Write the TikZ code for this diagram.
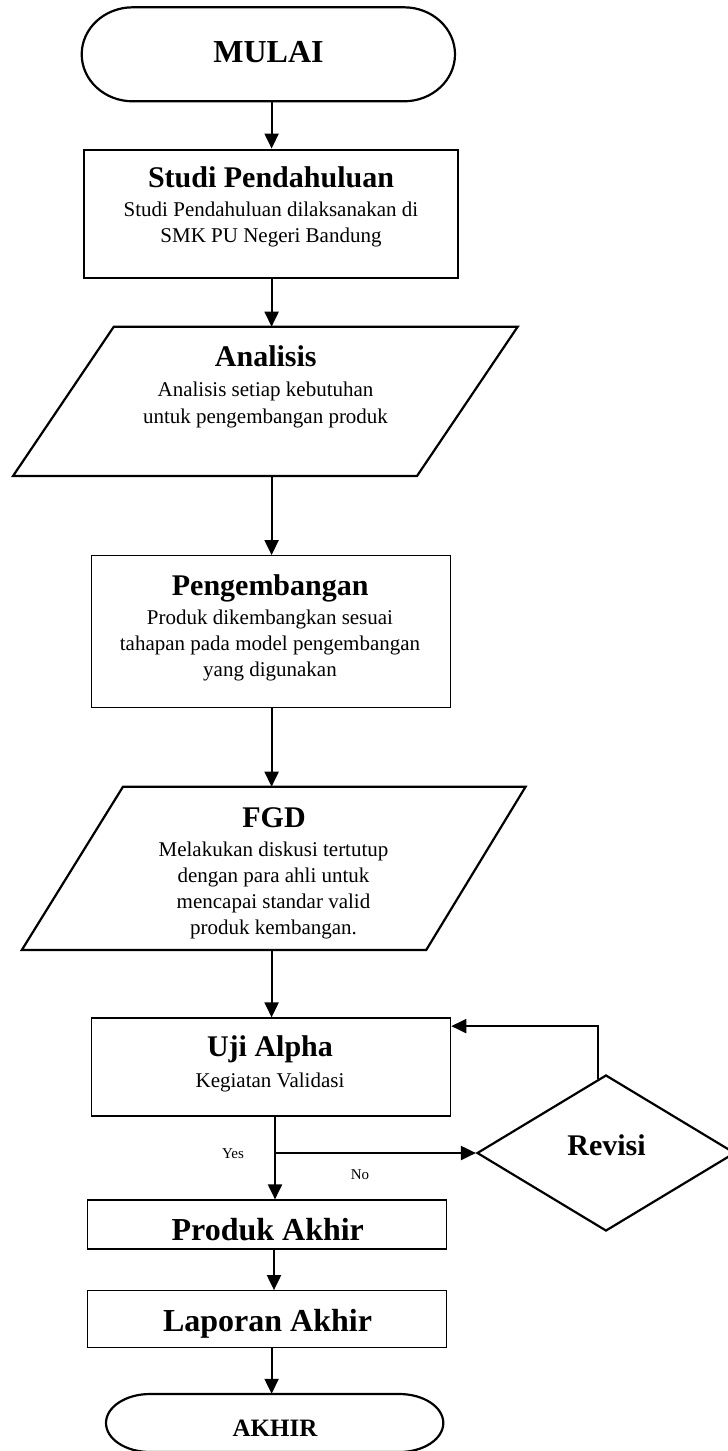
\documentclass[tikz,border=0pt]{standalone}
\usepackage{fontspec}
\setmainfont{Liberation Serif}
\usetikzlibrary{arrows.meta,shapes.geometric,calc}
\newcommand\FTitle{\fontsize{30}{36}\selectfont\bfseries}
\newcommand\FBody{\fontsize{21}{26}\selectfont}
\newcommand\FBig{\fontsize{32}{38}\selectfont\bfseries}
\newcommand\FSmall{\fontsize{15}{18}\selectfont}
\newcommand\FEnd{\fontsize{25}{30}\selectfont\bfseries}
\begin{document}
\begin{tikzpicture}[x=1pt,y=1pt,
  thickline/.style={line width=2.2pt},
  thinbox/.style={draw, line width=1.2pt, rectangle, inner sep=0pt},
  thickbox/.style={draw, line width=2.2pt, rectangle, inner sep=0pt},
  ghost/.style={inner sep=0pt},
  txt/.style={anchor=base, inner sep=0pt, align=center},
  arr/.style={line width=2pt, -{Triangle[length=15pt,width=14pt]}}]
\useasboundingbox (0,0) rectangle (728,-1451);
\coordinate (axis) at (271.6,0);
\coordinate (ax2) at (274,0);

% MULAI
\draw[thickline] (132.7,-7.3) -- (404,-7.3) arc[start angle=90,end angle=-90,x radius=51,y radius=47] -- (132.7,-101.3) arc[start angle=270,end angle=90,x radius=51,y radius=47] -- cycle;
\node[ghost, minimum width=373pt, minimum height=94pt] (mulai) at (268.3,-54.3) {};
\node[txt, font=\FBig] (mulaiT) at (268.5,-62.5) {MULAI};

% Studi Pendahuluan
\node[thickbox, minimum width=374pt, minimum height=128pt] (studi) at (271,-213.7) {};
\node[txt, font=\FTitle] (studiT) at (271,-187.7) {Studi Pendahuluan};
\node[txt, font=\FBody] (studiB) at (271,-242.3) {Studi Pendahuluan dilaksanakan di\\SMK PU Negeri Bandung};

% Analisis
\draw[thickline] (113.8,-326.7) -- (517.7,-326.7) -- (417,-476) -- (13,-476) -- cycle;
\coordinate (anTop) at (271.6,-326.7);
\coordinate (anBot) at (271.6,-476);
\node[txt, font=\FTitle] (anT) at (265.8,-366.7) {Analisis};
\node[txt, font=\FBody] (anB) at (265.5,-423.3) {Analisis setiap kebutuhan\\[1pt]untuk pengembangan produk};

% Pengembangan
\node[thinbox, minimum width=359pt, minimum height=151.6pt] (peng) at (271.2,-631.5) {};
\node[txt, font=\FTitle] (pengT) at (270.2,-595) {Pengembangan};
\node[txt, font=\FBody] (pengB) at (270,-676.3) {Produk dikembangkan sesuai\\tahapan pada model pengembangan\\yang digunakan};

% FGD
\draw[thickline] (123,-786.7) -- (525.6,-786.7) -- (426.2,-950) -- (21.8,-950) -- cycle;
\coordinate (fgdTop) at (271.6,-786.7);
\coordinate (fgdBot) at (271.6,-950);
\node[txt, font=\FTitle] (fgdT) at (274,-827.3) {FGD};
\node[txt, font=\FBody] (fgdB) at (273.5,-934.3) {Melakukan diskusi tertutup\\dengan para ahli untuk\\mencapai standar valid\\produk kembangan.};

% Uji Alpha
\node[thinbox, minimum width=359pt, minimum height=98pt] (uji) at (271.2,-1067) {};
\node[txt, font=\FTitle] (ujiT) at (270,-1056.7) {Uji Alpha};
\node[txt, font=\FBody] (ujiB) at (270,-1087.3) {Kegiatan Validasi};

% Revisi
\node[draw, diamond, line width=2.2pt, minimum width=258pt, minimum height=156pt, inner sep=0pt] (rev) at (606,-1153) {};
\node[txt, font=\FTitle] (revT) at (606.5,-1155.7) {Revisi};

% Produk Akhir
\node[thinbox, minimum width=359pt, minimum height=49pt] (prod) at (267.2,-1224.5) {};
\node[txt, font=\FBig] (prodT) at (267.8,-1240) {Produk Akhir};

% Laporan Akhir
\node[thinbox, minimum width=359pt, minimum height=56.6pt] (lap) at (267.2,-1319) {};
\node[txt, font=\FBig] (lapT) at (267.5,-1331.7) {Laporan Akhir};

% AKHIR
\draw[thickline] (150,-1394) -- (399.3,-1394) arc[start angle=90,end angle=-90,x radius=44,y radius=29] -- (150,-1452) arc[start angle=270,end angle=90,x radius=44,y radius=29] -- cycle;
\node[ghost, minimum width=337.3pt, minimum height=58pt] (akhir) at (274.7,-1423) {};
\node[txt, font=\FEnd] (akhirT) at (275,-1436.7) {AKHIR};

% connectors
\draw[arr] (mulai.south -| axis) -- (studi.north -| axis);
\draw[arr] (studi.south -| axis) -- (anTop);
\draw[arr] (anBot) -- (peng.north -| axis);
\draw[arr] (peng.south -| axis) -- (fgdTop);
\draw[arr] (fgdBot) -- (uji.north -| axis);
\coordinate (br) at (275,-1153);
\draw[arr] (uji.south -| br) -- (prod.north -| br);
\draw[arr] (br) -- (rev.west);
\draw[arr] ([xshift=-8pt,yshift=-4.8pt]rev.north) |- ([yshift=-8.7pt]uji.north east);
\draw[arr] (prod.south -| ax2) -- (lap.north -| ax2);
\draw[arr] (lap.south -| axis) -- (akhir.north -| axis);

% labels
\node[txt, font=\FSmall] (yes) at (233,-1158) {Yes};
\node[txt, font=\FSmall] (no) at (360,-1179) {No};
\end{tikzpicture}
\end{document}
